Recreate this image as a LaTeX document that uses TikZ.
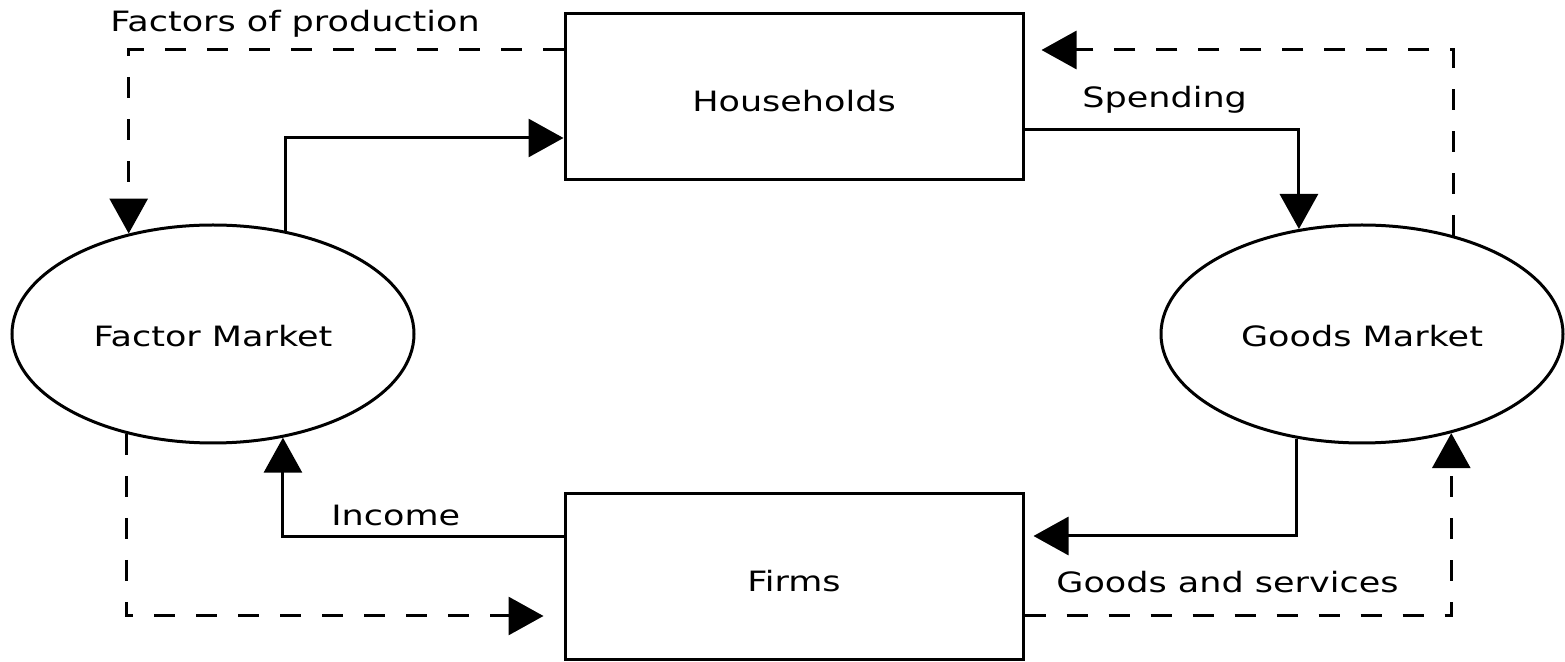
\documentclass[tikz,border=0pt]{standalone}
\usepackage{fontspec}
\setmainfont{DejaVu Sans}[FakeStretch=1.25]
\usetikzlibrary{arrows.meta,shapes.geometric,calc}

\tikzset{
    agent/.style={draw, line width=1.5pt, minimum width=229pt, minimum height=83pt, inner sep=0pt, text height=15pt, text depth=0pt},
    market/.style={draw, ellipse, line width=1.5pt, minimum width=201pt, minimum height=109pt, inner sep=0pt, text height=13pt, text depth=0pt},
    money/.style={line width=1.5pt, -{Triangle[length=17.5pt, width=19pt]}},
    real/.style={money, dash pattern=on 10.5pt off 10.5pt},
    lbl/.style={anchor=base west, inner sep=0pt}
}

\begin{document}
\begin{tikzpicture}[x=0.5pt, y=-0.5pt, font=\fontsize{14}{17}\selectfont]

    \useasboundingbox (0, 0) rectangle (1565, 662);

    % Boxes and markets
    \node[agent] (households) at (794, 97) {Households};
    \node[agent] (firms) at (794, 577) {Firms};
    \node[market] (factor) at (213, 334) {Factor Market};
    \node[market] (goods) at (1362, 334) {Goods Market};

    % Money flows (solid)
    \draw[money] (factor.55.2) |- ($(households.west)+(0, 41)$);
    \draw[money] ($(households.east)+(0, 33)$) -| (goods.121.4);
    \draw[money, shorten >=4.5pt] (goods.238.6) |- ($(firms.east)+(0, -41)$);
    \draw[money] ($(firms.west)+(0, -40)$) -| (factor.304.8);

    % Real flows (dashed)
    \draw[real] ($(households.west)+(0, -47)$) -| (factor.130.6);
    \draw[real, shorten >=8.5pt] (goods.47.6) |- ($(households.east)+(0, -47)$);
    \draw[real, shorten >=10pt] (factor.229.4) |- ($(firms.west)+(0, 39)$);
    \draw[real] ($(firms.east)+(0, 39)$) -| (goods.312.4);

    % Labels
    \node[lbl] (production) at (110, 32) {Factors of production};
    \node[lbl] (spending) at (1082, 108) {Spending};
    \node[lbl] (income) at (331, 526) {Income};
    \node[lbl] (services) at (1056, 593) {Goods and services};

\end{tikzpicture}
\end{document}
